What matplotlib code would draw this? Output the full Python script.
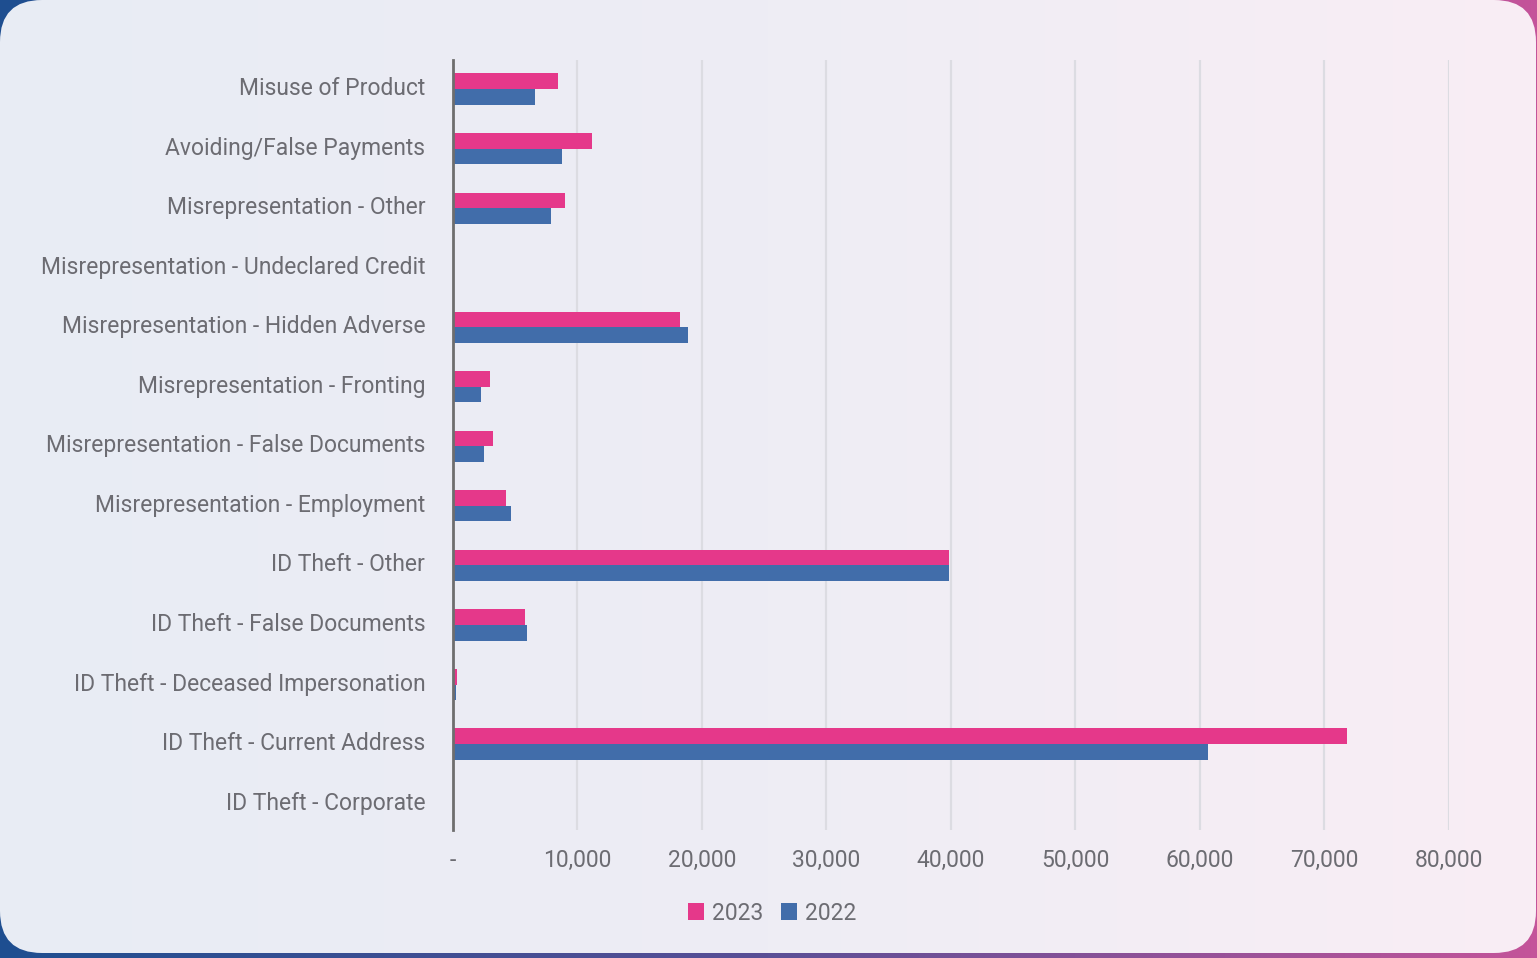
import numpy as np
import matplotlib
matplotlib.use("Agg")
import matplotlib.pyplot as plt
import matplotlib.transforms as mtransforms
from matplotlib.patches import FancyBboxPatch, Patch
from matplotlib.colors import LinearSegmentedColormap

categories = [
    "Misuse of Product",
    "Avoiding/False Payments",
    "Misrepresentation - Other",
    "Misrepresentation - Undeclared Credit",
    "Misrepresentation - Hidden Adverse",
    "Misrepresentation - Fronting",
    "Misrepresentation - False Documents",
    "Misrepresentation - Employment",
    "ID Theft - Other",
    "ID Theft - False Documents",
    "ID Theft - Deceased Impersonation",
    "ID Theft - Current Address",
    "ID Theft - Corporate",
]
values_2023 = [8450, 11200, 9000, 0, 18250, 3000, 3200, 4250, 39850, 5800, 320, 71800, 0]
values_2022 = [6600, 8750, 7900, 0, 18900, 2250, 2500, 4650, 39850, 5950, 240, 60650, 0]
series_labels = ["2023", "2022"]
xticks = [0, 10000, 20000, 30000, 40000, 50000, 60000, 70000, 80000]
xtick_labels = ["-", "10,000", "20,000", "30,000", "40,000", "50,000", "60,000", "70,000", "80,000"]

PINK = "#E5388A"
BLUE = "#416DAA"
TEXT = "#6C6C72"
FONT = ["Roboto", "DejaVu Sans"]
FS = 16.5

W, H = 1537, 958
fig = plt.figure(figsize=(W / 100, H / 100), dpi=100)

# background gradient (outer frame)
bg = fig.add_axes([0, 0, 1, 1])
bg.set_xlim(0, W)
bg.set_ylim(0, H)
bg.axis("off")
outer_cmap = LinearSegmentedColormap.from_list("outer", ["#1E4E90", "#5A4F96", "#C4549A"])
grad = np.linspace(0, 1, 512).reshape(1, -1)
bg.imshow(grad, cmap=outer_cmap, extent=[0, W, 0, H], aspect="auto", zorder=0)

# inner rounded panel with soft gradient
R = 42
panel = FancyBboxPatch((R, 5 + R), W - 1 - 2 * R, H - 5 - 2 * R,
                       boxstyle=f"round,pad={R}", facecolor="none", edgecolor="none",
                       transform=bg.transData)
bg.add_patch(panel)
inner_cmap = LinearSegmentedColormap.from_list("inner", ["#E8ECF4", "#EEEDF4", "#F9EEF5"])
im = bg.imshow(grad, cmap=inner_cmap, extent=[0, W, 0, H], aspect="auto", zorder=1)
im.set_clip_path(panel)

# main axes
x0, x1 = 453, 1448.6
y_top, y_bot = 60, 830
ax = fig.add_axes([x0 / W, 1 - y_bot / H, (x1 - x0) / W, (y_bot - y_top) / H])
ax.patch.set_alpha(0)

y = np.arange(len(categories))
h = 0.262
ax.barh(y - h / 2, values_2023, height=h, color=PINK, label=series_labels[0], zorder=3)
ax.barh(y + h / 2, values_2022, height=h, color=BLUE, label=series_labels[1], zorder=3)

ax.set_xlim(0, 80000)
ax.set_ylim(12.443, -0.487)
ax.set_xticks(xticks)
ax.set_xticklabels(xtick_labels)
ax.set_yticks(y)
ax.set_yticklabels(categories)
ax.tick_params(axis="both", length=0, labelsize=FS, labelcolor=TEXT)
ax.tick_params(axis="y", pad=20)
ax.tick_params(axis="x", pad=14)
for lab in ax.get_xticklabels() + ax.get_yticklabels():
    lab.set_family(FONT)
    lab.set_fontweight("normal")
shift = mtransforms.ScaledTranslation(0, 3 / 100, fig.dpi_scale_trans)
for lab in ax.get_yticklabels():
    lab.set_transform(lab.get_transform() + shift)

for t in xticks[1:]:
    ax.axvline(t, color="#DCDCE2", lw=1.6, zorder=1)
for s in ["top", "right", "bottom"]:
    ax.spines[s].set_visible(False)
ax.spines["left"].set_color("#6E6E6E")
ax.spines["left"].set_linewidth(2)
ax.spines["left"].set_zorder(4)

handles = [Patch(facecolor=PINK), Patch(facecolor=BLUE)]
fig.legend(handles, series_labels, loc="center", bbox_to_anchor=(772 / W, 1 - 913 / H),
           ncol=2, frameon=False, handlelength=0.7, handleheight=0.7,
           handletextpad=0.35, columnspacing=0.75,
           prop={"family": FONT, "size": FS, "weight": "normal"}, labelcolor=TEXT)

fig.savefig("out.png", dpi=100)
